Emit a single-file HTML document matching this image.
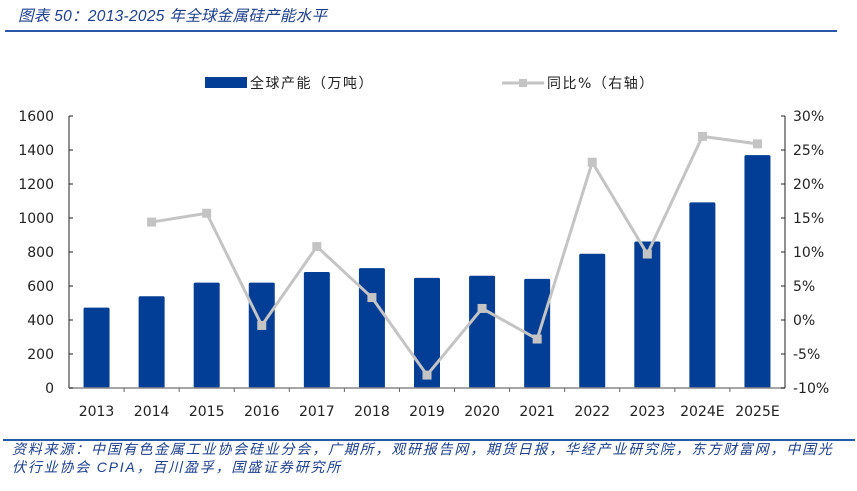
<!DOCTYPE html>
<html><head><meta charset="utf-8">
<style>
body{margin:0;background:#fff;width:857px;height:491px;overflow:hidden;font-family:"Liberation Sans","Noto Sans CJK SC",sans-serif;}
svg text{font-family:"DejaVu Sans","Liberation Sans","Noto Sans CJK SC",sans-serif;}
.title{position:absolute;left:18px;top:4px;font-size:15.5px;font-style:italic;color:#1d3f8c;font-family:"Liberation Sans","Noto Sans CJK SC",sans-serif;letter-spacing:0.3px;}
.foot{position:absolute;left:12px;top:440px;font-size:14px;line-height:18px;font-style:italic;color:#1d3f8c;width:850px;letter-spacing:1.8px;white-space:nowrap;}
</style></head>
<body>
<div class="title">图表 50：2013-2025 年全球金属硅产能水平</div>
<div style="position:absolute;left:5px;top:30px;width:832px;height:2px;background:#2a58a8"></div>
<div style="position:absolute;left:3px;top:439px;width:852px;height:2px;background:#2a58a8"></div>
<div class="foot">资料来源：中国有色金属工业协会硅业分会，广期所，观研报告网，期货日报，华经产业研究院，东方财富网，中国光<br>伏行业协会 CPIA，百川盈孚，国盛证券研究所</div>
<svg id="chart" width="857" height="491" style="position:absolute;left:0;top:0"></svg>
<script>
const categories=["2013","2014","2015","2016","2017","2018","2019","2020","2021","2022","2023","2024E","2025E"];
const capacity=[473,540,620,620,682,705,648,660,642,790,862,1092,1370];
const yoy=[null,14.4,15.7,-0.8,10.8,3.3,-8.1,1.7,-2.8,23.2,9.7,27.0,25.9];
const leftTicks=[0,200,400,600,800,1000,1200,1400,1600];
const rightTicks=[-10,-5,0,5,10,15,20,25,30];
const NS="http://www.w3.org/2000/svg";
const svg=document.getElementById('chart');
const X0=69,X1=785,Y0=388,Y1=116;
const step=(X1-X0)/categories.length;
const xc=i=>X0+step*(i+0.5);
const yl=v=>Y0-(v-0)/1600*(Y0-Y1);
const yr=v=>Y0-(v+10)/40*(Y0-Y1);
function mk(t,a,p){const e=document.createElementNS(NS,t);for(const k in a)e.setAttribute(k,a[k]);(p||svg).appendChild(e);return e;}
capacity.forEach((v,i)=>{
 const r=mk('rect',{x:xc(i)-13,y:yl(v),width:26,height:Y0-yl(v),fill:'#023e96',rx:1.5});
 
 
});
const ax=mk('line',{x1:X0,y1:Y1,x2:X0,y2:Y0,stroke:'#222','stroke-width':1});


const bx=mk('line',{x1:X0,y1:Y0,x2:X1,y2:Y0,stroke:'#888','stroke-width':1.5});


const rx=mk('line',{x1:X1,y1:Y1,x2:X1,y2:Y0,stroke:'#222','stroke-width':1});


leftTicks.forEach(v=>{
 mk('line',{x1:X0,y1:yl(v),x2:X0+4,y2:yl(v),stroke:'#222'});
 const t=mk('text',{x:X0-15,y:yl(v)+5,'text-anchor':'end','font-size':14,fill:'#222'});t.textContent=v;
 
 
});
rightTicks.forEach(v=>{
 mk('line',{x1:X1,y1:yr(v),x2:X1-4,y2:yr(v),stroke:'#222'});
 const t=mk('text',{x:X1+8,y:yr(v)+5,'font-size':14,fill:'#222'});t.textContent=v+'%';
 
 
});
categories.forEach((c,i)=>{
 if(i>0)mk('line',{x1:X0+step*i,y1:Y0,x2:X0+step*i,y2:Y0+4,stroke:'#666'});
 const t=mk('text',{x:xc(i),y:416,'text-anchor':'middle','font-size':14,fill:'#222'});t.textContent=c;
 
 
});
let pts=[];yoy.forEach((v,i)=>{if(v!==null)pts.push(xc(i)+','+yr(v));});
const pl=mk('polyline',{points:pts.join(' '),fill:'none',stroke:'#c4c4c4','stroke-width':3});


yoy.forEach((v,i)=>{if(v===null)return;
 const m=mk('rect',{x:xc(i)-4.5,y:yr(v)-4.5,width:9,height:9,fill:'#c4c4c4'});
 
 
});
const lg=mk('g',{});


mk('rect',{x:205,y:77,width:42,height:11,fill:'#023e96'},lg);
const t1=mk('text',{x:250,y:88,'font-size':14,fill:'#222','letter-spacing':1.5},lg);t1.textContent='全球产能（万吨）';
mk('line',{x1:502,y1:83,x2:544,y2:83,stroke:'#c4c4c4','stroke-width':3},lg);
mk('rect',{x:519,y:79,width:8,height:8,fill:'#c4c4c4'},lg);
const t2=mk('text',{x:547,y:88,'font-size':14,fill:'#222','letter-spacing':1.5},lg);t2.textContent='同比%（右轴）';
</script>
</body></html>
